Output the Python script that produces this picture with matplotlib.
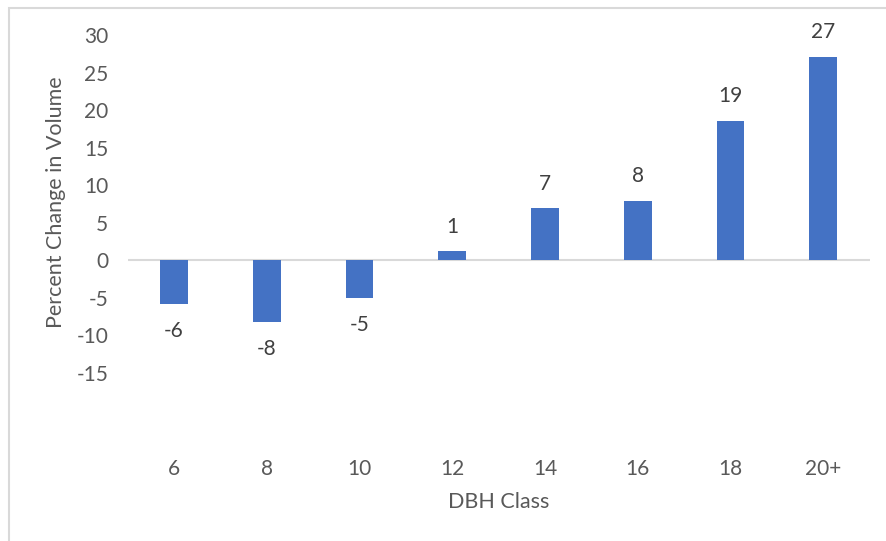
import numpy as np
import matplotlib.pyplot as plt
from matplotlib.patches import Rectangle

# DBH classes and percent change in volume
dbh_class = ['6', '8', '10', '12', '14', '16', '18', '20+']
pct_change = [-5.9, -8.3, -5.1, 1.2, 6.9, 7.9, 18.6, 27.1]
bar_labels = ['-6', '-8', '-5', '1', '7', '8', '19', '27']
y_ticks = [30, 25, 20, 15, 10, 5, 0, -5, -10, -15]

plt.rcParams['font.family'] = ['Lato', 'DejaVu Sans']
plt.rcParams['axes.unicode_minus'] = False
grey = '#595959'
blue = '#4472C4'
fs = 15

fig = plt.figure(figsize=(8.86, 5.41), dpi=100)
ax = fig.add_axes([0.144, 0.1728, 0.8375, 0.7625])

x = np.arange(len(dbh_class))
bars = ax.bar(x, pct_change, width=0.30, color=blue, zorder=3)

for xi, v, lab in zip(x, pct_change, bar_labels):
    off = 17.5 if v >= 0 else -19.5
    ax.annotate(lab, (xi, v), xytext=(0, off), textcoords='offset points',
                ha='center', va='center', fontsize=fs, color='#404040')

ax.axhline(0, color='#D9D9D9', lw=1.5, zorder=2)

ax.set_xlim(-0.5, len(dbh_class) - 0.5)
ax.set_ylim(-25, 30)
ax.set_yticks(y_ticks)
ax.set_xticks(x)
ax.set_xticklabels(dbh_class)
ax.tick_params(axis='both', length=0, labelsize=fs, labelcolor=grey)
ax.tick_params(axis='y', pad=14)
ax.tick_params(axis='x', pad=8)
for s in ax.spines.values():
    s.set_visible(False)

fig.text(56 / 886, 1 - 202 / 541, 'Percent Change in Volume', rotation=90,
         ha='center', va='center', fontsize=fs + 0.5, color=grey)
fig.text(499 / 886, 1 - 502 / 541, 'DBH Class', ha='center', va='center',
         fontsize=fs + 0.5, color=grey)

# chart-area border (only top and left edges visible in the crop)
fig.patches.append(Rectangle((9 / 886, -0.1), 1.2, 1 - 8 / 541 + 0.1,
                             transform=fig.transFigure, fill=False,
                             edgecolor='#D9D9D9', lw=1.5))

plt.savefig('out.png', dpi=100)
